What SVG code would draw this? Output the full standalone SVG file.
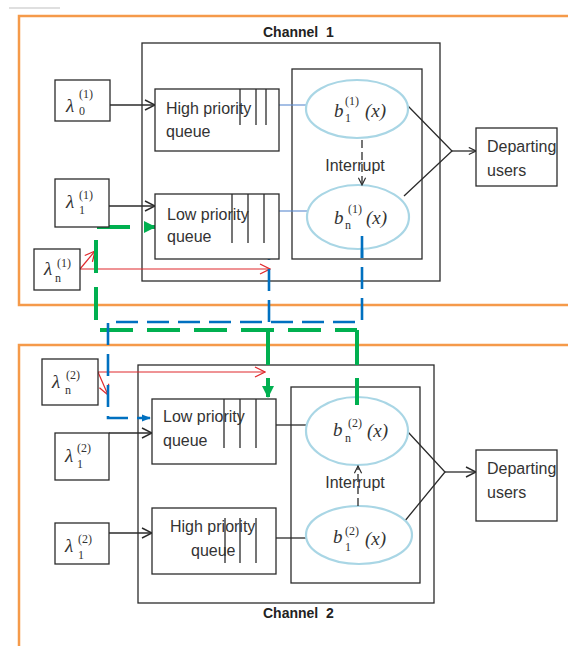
<svg xmlns="http://www.w3.org/2000/svg" width="568" height="646" viewBox="0 0 568 646">
<defs>
<style>
.box{fill:#fff;stroke:#2b2b2b;stroke-width:1.3}
.frame{fill:none;stroke:#2b2b2b;stroke-width:1.3}
.orange{fill:none;stroke:#f59a4a;stroke-width:2.5}
.ell{fill:#fff;stroke:#a9d6e5;stroke-width:2.2}
.ql{stroke:#2b2b2b;stroke-width:1.3}
.t{font-family:"Liberation Sans",Arial,sans-serif;font-size:16px;fill:#333}
.ch{font-family:"Liberation Sans",Arial,sans-serif;font-size:14px;font-weight:bold;fill:#222}
.m{font-family:"Liberation Serif","DejaVu Serif",serif;font-style:italic;font-size:19px;fill:#333}
.sup{font-family:"Liberation Serif","DejaVu Serif",serif;font-size:12px;fill:#333}
.sub{font-family:"Liberation Serif","DejaVu Serif",serif;font-size:12px;fill:#333}
.bl{fill:none;stroke:#2b2b2b;stroke-width:1.3}
.thin{fill:none;stroke:#5b8bd0;stroke-width:1.1}
.red{fill:none;stroke:#e0282c;stroke-width:1.2}
.green{fill:none;stroke:#00b050;stroke-width:4}
.blue{fill:none;stroke:#0070c0;stroke-width:2.6}
.intr{fill:none;stroke:#2b2b2b;stroke-width:1.3;stroke-dasharray:8 4}
</style>
<marker id="openB" viewBox="0 0 12 12" refX="11" refY="6" markerWidth="12" markerHeight="12" markerUnits="userSpaceOnUse" orient="auto"><path d="M1,1 L11,6 L1,11" fill="none" stroke="#2b2b2b" stroke-width="1.4"/></marker>
<marker id="openS" viewBox="0 0 10 10" refX="9" refY="5" markerWidth="9" markerHeight="9" markerUnits="userSpaceOnUse" orient="auto"><path d="M1,1 L9,5 L1,9" fill="none" stroke="#2b2b2b" stroke-width="1.3"/></marker>
<marker id="openR" viewBox="0 0 12 12" refX="11" refY="6" markerWidth="12" markerHeight="12" markerUnits="userSpaceOnUse" orient="auto"><path d="M1,1 L11,6 L1,11" fill="none" stroke="#e0282c" stroke-width="1.3"/></marker>
<marker id="fillG" viewBox="0 0 12 12" refX="11" refY="6" markerWidth="12" markerHeight="12" markerUnits="userSpaceOnUse" orient="auto"><path d="M0,0 L12,6 L0,12 Z" fill="#00b050"/></marker>
<marker id="fillBl" viewBox="0 0 10 8" refX="9" refY="4" markerWidth="9" markerHeight="8" markerUnits="userSpaceOnUse" orient="auto"><path d="M0,0 L10,4 L0,8 Z" fill="#0070c0"/></marker>
</defs>
<rect width="568" height="646" fill="#fff"/>
<line x1="9" y1="8" x2="60" y2="8" stroke="#c0c0c0" stroke-width="1.2"/>

<g id="channel1">
<rect class="orange" x="19" y="16" width="560" height="289"/>
<rect class="frame" x="142" y="43" width="298" height="238"/>
<text class="ch" x="263" y="37" xml:space="preserve">Channel  1</text>
</g>
<g id="server1"><rect class="frame" x="292" y="69" width="130" height="190"/></g>

<g id="channel2">
<rect class="orange" x="19" y="345" width="560" height="320"/>
<rect class="frame" x="138" y="365" width="296" height="238"/>
<text class="ch" x="263" y="618" xml:space="preserve">Channel  2</text>
</g>
<g id="server2"><rect class="frame" x="291" y="387" width="129" height="196"/></g>

<g id="connectors">
<path class="bl" d="M110,105 H155" marker-end="url(#openB)"/>
<path class="bl" d="M109,206 H155" marker-end="url(#openB)"/>
<path class="thin" d="M279,105 H306"/>
<path class="thin" d="M279,211 H307"/>
<path class="bl" d="M408,106 L452,151 L404,196"/>
<path class="bl" d="M452,151 H476" marker-end="url(#openS)"/>
<path class="bl" d="M109,433 H152" marker-end="url(#openB)"/>
<path class="bl" d="M109,533 H152" marker-end="url(#openB)"/>
<path class="bl" d="M276,425 H307"/>
<path class="bl" d="M276,538 H306"/>
<path class="bl" d="M408,432 L445,472 L404,522"/>
<path class="bl" d="M445,472 H476" marker-end="url(#openB)"/>
<path class="red" d="M80,269 H270" marker-end="url(#openR)"/>
<path class="red" d="M80,269 L95,251" marker-end="url(#openR)"/>
<path class="red" d="M98,372 H265" marker-end="url(#openR)"/>
<path class="red" d="M98,372 L108,395" marker-end="url(#openR)"/>
<path class="green" d="M357,330 H96 V227 H155" stroke-dasharray="33 14" stroke-dashoffset="11" marker-end="url(#fillG)"/>
<path class="green" d="M357,330 V365"/>
<path class="green" d="M268,330 V365"/>
<path class="green" d="M268,378 V397" marker-end="url(#fillG)"/>
<path class="blue" d="M362,236 V322 H108 V418 H150" stroke-dasharray="22 9" marker-end="url(#fillBl)"/>
<path class="blue" d="M269,322 V243" stroke-dasharray="22 9" marker-end="url(#fillBl)"/>
</g>

<g id="lambda0_1">
<rect class="box" x="55" y="80" width="55" height="41"/>
<text class="m" x="66" y="112">λ</text><text class="sup" x="79" y="98">(1)</text><text class="sub" x="79" y="115">0</text>
</g>
<g id="lambda1_1">
<rect class="box" x="55" y="179" width="54" height="48"/>
<text class="m" x="66" y="208">λ</text><text class="sup" x="79" y="199">(1)</text><text class="sub" x="79" y="214">1</text>
</g>
<g id="lambdan_1">
<rect class="box" x="34" y="249" width="46" height="41"/>
<text class="m" x="44" y="275">λ</text><text class="sup" x="57" y="267">(1)</text><text class="sub" x="55" y="282">n</text>
</g>
<g id="hq1">
<rect class="box" x="155" y="89" width="124" height="62"/>
<line class="ql" x1="240" y1="89" x2="240" y2="125"/><line class="ql" x1="256" y1="89" x2="256" y2="125"/><line class="ql" x1="266" y1="89" x2="266" y2="125"/>
<text class="t" x="166" y="114">High priority</text><text class="t" x="166" y="137">queue</text>
</g>
<g id="lq1">
<rect class="box" x="155" y="194" width="124" height="65"/>
<line class="ql" x1="232" y1="194" x2="232" y2="243"/><line class="ql" x1="248" y1="194" x2="248" y2="243"/><line class="ql" x1="264" y1="194" x2="264" y2="243"/>
<text class="t" x="167" y="220">Low priority</text><text class="t" x="167" y="242">queue</text>
</g>
<g id="b1_1">
<ellipse class="ell" cx="357" cy="109" rx="51" ry="29"/>
<text class="m" x="334" y="117">b</text><text class="sup" x="345" y="105">(1)</text><text class="sub" x="345" y="122">1</text><text class="m" x="365" y="117" font-style="normal">(<tspan font-style="italic">x</tspan>)</text>
</g>
<g id="bn_1">
<ellipse class="ell" cx="358" cy="217" rx="51" ry="32"/>
<text class="m" x="334" y="224">b</text><text class="sup" x="348" y="213">(1)</text><text class="sub" x="345" y="229">n</text><text class="m" x="366" y="224" font-style="normal">(<tspan font-style="italic">x</tspan>)</text>
</g>
<g id="interrupt1"><text class="t" x="355" y="171" text-anchor="middle">Interrupt</text></g>
<g id="depart1">
<rect class="box" x="476" y="128" width="81" height="58"/>
<text class="t" x="487" y="152">Departing</text><text class="t" x="487" y="176">users</text>
</g>

<g id="lambdan_2">
<rect class="box" x="42" y="359" width="56" height="46"/>
<text class="m" x="52" y="388">λ</text><text class="sup" x="66" y="379">(2)</text><text class="sub" x="65" y="394">n</text>
</g>
<g id="lambda1_2a">
<rect class="box" x="55" y="433" width="54" height="47"/>
<text class="m" x="65" y="462">λ</text><text class="sup" x="77" y="452">(2)</text><text class="sub" x="77" y="468">1</text>
</g>
<g id="lambda1_2b">
<rect class="box" x="55" y="523" width="54" height="41"/>
<text class="m" x="65" y="552">λ</text><text class="sup" x="78" y="543">(2)</text><text class="sub" x="78" y="559">1</text>
</g>
<g id="lq2">
<rect class="box" x="152" y="399" width="124" height="65"/>
<line class="ql" x1="224" y1="399" x2="224" y2="448"/><line class="ql" x1="240" y1="399" x2="240" y2="448"/><line class="ql" x1="256" y1="399" x2="256" y2="448"/>
<text class="t" x="163" y="422">Low priority</text><text class="t" x="163" y="446">queue</text>
</g>
<g id="hq2">
<rect class="box" x="152" y="508" width="124" height="66"/>
<line class="ql" x1="225" y1="518" x2="225" y2="563"/><line class="ql" x1="240" y1="518" x2="240" y2="563"/><line class="ql" x1="256" y1="518" x2="256" y2="563"/>
<text class="t" x="170" y="532">High priority</text><text class="t" x="191" y="556">queue</text>
</g>
<g id="bn_2">
<ellipse class="ell" cx="357" cy="431" rx="51" ry="34"/>
<text class="m" x="333" y="436">b</text><text class="sup" x="348" y="427">(2)</text><text class="sub" x="345" y="442">n</text><text class="m" x="367" y="437" font-style="normal">(<tspan font-style="italic">x</tspan>)</text>
</g>
<g id="b1_2">
<ellipse class="ell" cx="359" cy="535" rx="53" ry="29"/>
<text class="m" x="333" y="543">b</text><text class="sup" x="345" y="535">(2)</text><text class="sub" x="345" y="551">1</text><text class="m" x="365" y="545" font-style="normal">(<tspan font-style="italic">x</tspan>)</text>
</g>
<g id="interrupt2"><text class="t" x="355" y="488" text-anchor="middle">Interrupt</text></g>
<g id="depart2">
<rect class="box" x="476" y="450" width="81" height="71"/>
<text class="t" x="487" y="474">Departing</text><text class="t" x="487" y="498">users</text>
</g>
<g id="connectors-over">
<path class="green" d="M357,378 V405"/>
<path class="blue" d="M362,236 V258"/>
<path class="intr" d="M362,140 V185" marker-end="url(#openS)"/>
<path class="intr" d="M358,506 V466" marker-end="url(#openS)"/>
</g>
</svg>
